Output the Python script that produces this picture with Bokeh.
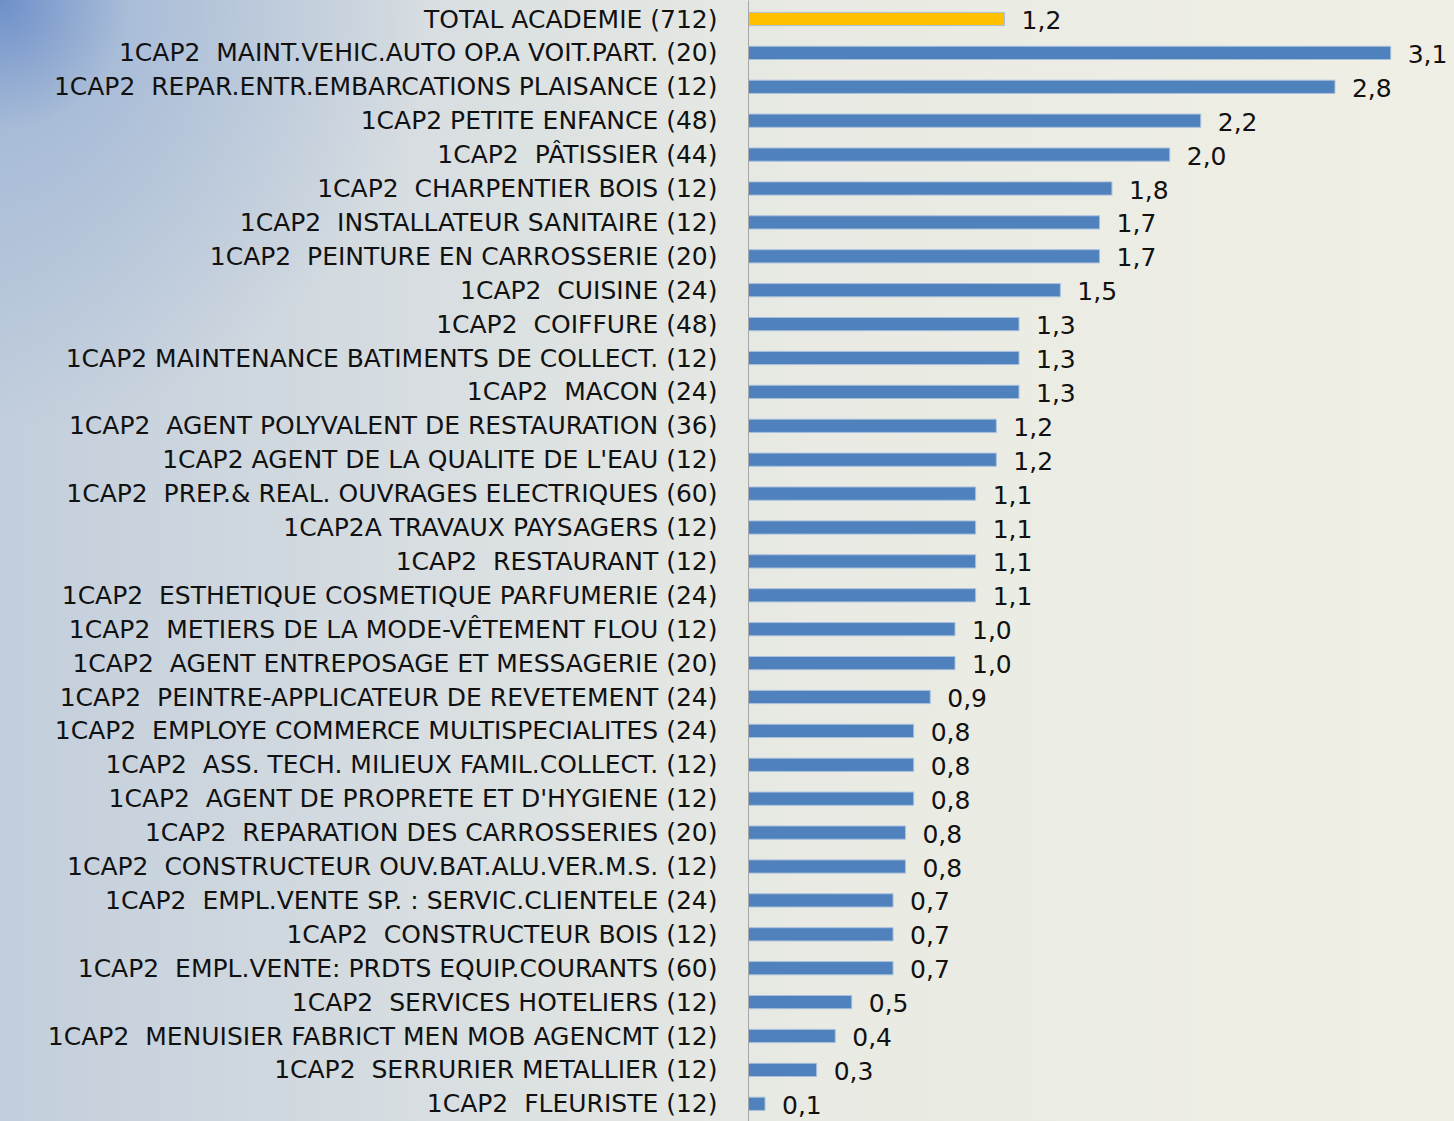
from bokeh.plotting import figure
from bokeh.models import ColumnDataSource, Range1d, FixedTicker
from bokeh.core.properties import value
from bokeh.embed import file_html
from bokeh.resources import INLINE

categories = [
    "TOTAL ACADEMIE (712)",
    "1CAP2  MAINT.VEHIC.AUTO OP.A VOIT.PART. (20)",
    "1CAP2  REPAR.ENTR.EMBARCATIONS PLAISANCE (12)",
    "1CAP2 PETITE ENFANCE (48)",
    "1CAP2  PÂTISSIER (44)",
    "1CAP2  CHARPENTIER BOIS (12)",
    "1CAP2  INSTALLATEUR SANITAIRE (12)",
    "1CAP2  PEINTURE EN CARROSSERIE (20)",
    "1CAP2  CUISINE (24)",
    "1CAP2  COIFFURE (48)",
    "1CAP2 MAINTENANCE BATIMENTS DE COLLECT. (12)",
    "1CAP2  MACON (24)",
    "1CAP2  AGENT POLYVALENT DE RESTAURATION (36)",
    "1CAP2 AGENT DE LA QUALITE DE L'EAU (12)",
    "1CAP2  PREP.& REAL. OUVRAGES ELECTRIQUES (60)",
    "1CAP2A TRAVAUX PAYSAGERS (12)",
    "1CAP2  RESTAURANT (12)",
    "1CAP2  ESTHETIQUE COSMETIQUE PARFUMERIE (24)",
    "1CAP2  METIERS DE LA MODE-VÊTEMENT FLOU (12)",
    "1CAP2  AGENT ENTREPOSAGE ET MESSAGERIE (20)",
    "1CAP2  PEINTRE-APPLICATEUR DE REVETEMENT (24)",
    "1CAP2  EMPLOYE COMMERCE MULTISPECIALITES (24)",
    "1CAP2  ASS. TECH. MILIEUX FAMIL.COLLECT. (12)",
    "1CAP2  AGENT DE PROPRETE ET D'HYGIENE (12)",
    "1CAP2  REPARATION DES CARROSSERIES (20)",
    "1CAP2  CONSTRUCTEUR OUV.BAT.ALU.VER.M.S. (12)",
    "1CAP2  EMPL.VENTE SP. : SERVIC.CLIENTELE (24)",
    "1CAP2  CONSTRUCTEUR BOIS (12)",
    "1CAP2  EMPL.VENTE: PRDTS EQUIP.COURANTS (60)",
    "1CAP2  SERVICES HOTELIERS (12)",
    "1CAP2  MENUISIER FABRICT MEN MOB AGENCMT (12)",
    "1CAP2  SERRURIER METALLIER (12)",
    "1CAP2  FLEURISTE (12)",
]

values = [
    1.24, 3.11, 2.84, 2.19, 2.04, 1.76, 1.70, 1.70, 1.51, 1.31, 1.31,
    1.31, 1.20, 1.20, 1.10, 1.10, 1.10, 1.10, 1.00, 1.00, 0.88, 0.80,
    0.80, 0.80, 0.76, 0.76, 0.70, 0.70, 0.70, 0.50, 0.42, 0.33, 0.08,
]

positions = list(range(len(categories)))
bar_colors = ["#ffc000"] + ["#4f81bd"] * (len(categories) - 1)
labels = [f"{v:.1f}".replace(".", ",") for v in values]
# keep visible double spaces in SVG text
tick_text = [c.replace("  ", "\u00a0 ") for c in categories]

source = ColumnDataSource(dict(y=positions, v=values, color=bar_colors, label=labels))

W, H = 1454, 1121
LEFT = 748
px_per_unit = 206.5
row_px = 33.9
top_pad = 18.5 / row_px

p = figure(
    width=W, height=H,
    output_backend="svg", toolbar_location=None,
    x_range=Range1d(0, (W - LEFT) / px_per_unit),
    y_range=Range1d(H / row_px - top_pad, -top_pad),
    x_axis_location=None,
    min_border_left=LEFT, min_border_right=0, min_border_top=0, min_border_bottom=0,
)
p.styles = {
    "background": "radial-gradient(circle at 0px 0px, rgba(105,140,200,0.95) 0px, rgba(150,175,212,0.6) 130px, rgba(190,205,222,0) 430px), "
                  "linear-gradient(to right, #c2cedc 0%, #d8dee1 30%, #e8eae3 55%, #f0efe5 100%)"
}
p.background_fill_alpha = 0
p.border_fill_alpha = 0
p.outline_line_color = None
p.grid.visible = False

p.hbar(y="y", left=0, right="v", height=0.39, fill_color="color",
       line_color="#a9c0dd", line_width=1, source=source)

p.text(x="v", y="y", text="label", source=source, x_offset=17, y_offset=1,
       text_baseline="middle", text_align="left",
       text_font=value("DejaVu Sans"), text_font_size="25px", text_color="#111111")

ax = p.yaxis[0]
ax.ticker = FixedTicker(ticks=positions)
ax.major_label_overrides = {i: c for i, c in enumerate(tick_text)}
ax.major_label_text_font = "DejaVu Sans"
ax.major_label_text_font_size = "25px"
ax.major_label_text_color = "#111111"
ax.axis_line_color = "#a6a6a6"
ax.axis_line_width = 1
ax.major_tick_line_color = None
ax.minor_tick_line_color = None
ax.major_tick_out = 0
ax.major_tick_in = 0
ax.major_label_standoff = 31

open("out.html", "w").write(file_html(p, INLINE))
